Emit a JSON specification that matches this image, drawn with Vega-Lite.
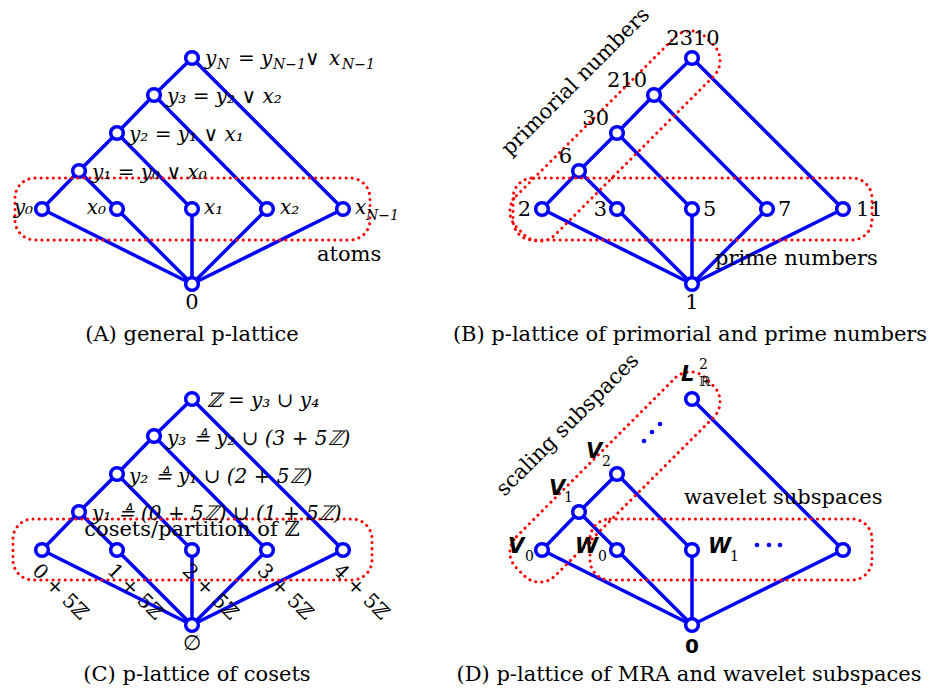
{
  "$schema": "https://vega.github.io/schema/vega-lite/v6.json",
  "width": 938,
  "height": 694,
  "padding": 0,
  "autosize": "none",
  "background": "white",
  "config": {"view": {"stroke": null}},
  "datasets": {
    "edges": [
      {"x": 42, "y": 209, "x2": 79, "y2": 171},
      {"x": 79, "y": 171, "x2": 117, "y2": 133},
      {"x": 117, "y": 133, "x2": 154, "y2": 95},
      {"x": 154, "y": 95, "x2": 192, "y2": 58},
      {"x": 79, "y": 171, "x2": 117, "y2": 209},
      {"x": 117, "y": 133, "x2": 192, "y2": 209},
      {"x": 154, "y": 95, "x2": 267, "y2": 209},
      {"x": 192, "y": 58, "x2": 343, "y2": 209},
      {"x": 192, "y": 284, "x2": 42, "y2": 209},
      {"x": 192, "y": 284, "x2": 117, "y2": 209},
      {"x": 192, "y": 284, "x2": 192, "y2": 209},
      {"x": 192, "y": 284, "x2": 267, "y2": 209},
      {"x": 192, "y": 284, "x2": 343, "y2": 209},
      {"x": 542, "y": 209, "x2": 579, "y2": 171},
      {"x": 579, "y": 171, "x2": 617, "y2": 133},
      {"x": 617, "y": 133, "x2": 654, "y2": 95},
      {"x": 654, "y": 95, "x2": 692, "y2": 58},
      {"x": 579, "y": 171, "x2": 617, "y2": 209},
      {"x": 617, "y": 133, "x2": 692, "y2": 209},
      {"x": 654, "y": 95, "x2": 767, "y2": 209},
      {"x": 692, "y": 58, "x2": 843, "y2": 209},
      {"x": 692, "y": 284, "x2": 542, "y2": 209},
      {"x": 692, "y": 284, "x2": 617, "y2": 209},
      {"x": 692, "y": 284, "x2": 692, "y2": 209},
      {"x": 692, "y": 284, "x2": 767, "y2": 209},
      {"x": 692, "y": 284, "x2": 843, "y2": 209},
      {"x": 42, "y": 550, "x2": 79, "y2": 512},
      {"x": 79, "y": 512, "x2": 117, "y2": 474},
      {"x": 117, "y": 474, "x2": 154, "y2": 436},
      {"x": 154, "y": 436, "x2": 192, "y2": 399},
      {"x": 79, "y": 512, "x2": 117, "y2": 550},
      {"x": 117, "y": 474, "x2": 192, "y2": 550},
      {"x": 154, "y": 436, "x2": 267, "y2": 550},
      {"x": 192, "y": 399, "x2": 343, "y2": 550},
      {"x": 192, "y": 625, "x2": 42, "y2": 550},
      {"x": 192, "y": 625, "x2": 117, "y2": 550},
      {"x": 192, "y": 625, "x2": 192, "y2": 550},
      {"x": 192, "y": 625, "x2": 267, "y2": 550},
      {"x": 192, "y": 625, "x2": 343, "y2": 550},
      {"x": 542, "y": 550, "x2": 579, "y2": 512},
      {"x": 579, "y": 512, "x2": 617, "y2": 474},
      {"x": 579, "y": 512, "x2": 617, "y2": 550},
      {"x": 617, "y": 474, "x2": 692, "y2": 550},
      {"x": 692, "y": 399, "x2": 843, "y2": 550},
      {"x": 692, "y": 625, "x2": 542, "y2": 550},
      {"x": 692, "y": 625, "x2": 617, "y2": 550},
      {"x": 692, "y": 625, "x2": 692, "y2": 550},
      {"x": 692, "y": 625, "x2": 843, "y2": 550}
    ],
    "nodes": [
      {"x": 42, "y": 209}, {"x": 117, "y": 209}, {"x": 192, "y": 209}, {"x": 267, "y": 209}, {"x": 343, "y": 209},
      {"x": 79, "y": 171}, {"x": 117, "y": 133}, {"x": 154, "y": 95}, {"x": 192, "y": 58}, {"x": 192, "y": 284},
      {"x": 542, "y": 209}, {"x": 617, "y": 209}, {"x": 692, "y": 209}, {"x": 767, "y": 209}, {"x": 843, "y": 209},
      {"x": 579, "y": 171}, {"x": 617, "y": 133}, {"x": 654, "y": 95}, {"x": 692, "y": 58}, {"x": 692, "y": 284},
      {"x": 42, "y": 550}, {"x": 117, "y": 550}, {"x": 192, "y": 550}, {"x": 267, "y": 550}, {"x": 343, "y": 550},
      {"x": 79, "y": 512}, {"x": 117, "y": 474}, {"x": 154, "y": 436}, {"x": 192, "y": 399}, {"x": 192, "y": 625},
      {"x": 542, "y": 550}, {"x": 617, "y": 550}, {"x": 692, "y": 550}, {"x": 843, "y": 550},
      {"x": 579, "y": 512}, {"x": 617, "y": 474}, {"x": 692, "y": 399}, {"x": 692, "y": 625}
    ],
    "boxes": [
      {"x": 15, "y": 178, "x2": 370, "y2": 240},
      {"x": 513, "y": 178, "x2": 872, "y2": 240},
      {"x": 13, "y": 519, "x2": 372, "y2": 580},
      {"x": 590, "y": 519, "x2": 872, "y2": 580}
    ],
    "stadia": [
      {"x": 615, "y": 136},
      {"x": 615, "y": 477}
    ],
    "dots": [
      {"x": 644, "y": 441}, {"x": 652, "y": 432}, {"x": 660, "y": 424},
      {"x": 757, "y": 545}, {"x": 769, "y": 545}, {"x": 780, "y": 545}
    ],
    "texts": [
      {"k": "s", "x": 317, "y": 261, "t": "atoms"},
      {"k": "s", "x": 715, "y": 265, "t": "prime numbers"},
      {"k": "s", "x": 703, "y": 216, "t": "5"},
      {"k": "s", "x": 778, "y": 216, "t": "7"},
      {"k": "s", "x": 856, "y": 216, "t": "11"},
      {"k": "s", "x": 684, "y": 504, "t": "wavelet subspaces"},
      {"k": "sr", "x": 647, "y": 87, "t": "210"},
      {"k": "sr", "x": 609, "y": 125, "t": "30"},
      {"k": "sr", "x": 572, "y": 163, "t": "6"},
      {"k": "sr", "x": 531, "y": 216, "t": "2"},
      {"k": "sr", "x": 607, "y": 216, "t": "3"},
      {"k": "sc", "x": 693, "y": 45, "t": "2310"},
      {"k": "sc", "x": 192, "y": 309, "t": "0"},
      {"k": "sc", "x": 692, "y": 309, "t": "1"},
      {"k": "sc", "x": 192, "y": 341, "t": "(A) general p-lattice"},
      {"k": "sc", "x": 690, "y": 341, "t": "(B) p-lattice of primorial and prime numbers"},
      {"k": "sc", "x": 192, "y": 536, "t": "cosets/partition of ℤ"},
      {"k": "sc", "x": 192, "y": 650, "t": "∅"},
      {"k": "sc", "x": 197, "y": 681, "t": "(C) p-lattice of cosets"},
      {"k": "sc", "x": 689, "y": 681, "t": "(D) p-lattice of MRA and wavelet subspaces"},
      {"k": "m", "x": 205, "y": 65, "t": "y"},
      {"k": "m", "x": 238, "y": 65, "t": "= y"},
      {"k": "m", "x": 305, "y": 65, "t": "∨"},
      {"k": "m", "x": 329, "y": 65, "t": "x"},
      {"k": "mi", "x": 217, "y": 69, "t": "N"},
      {"k": "mi", "x": 273, "y": 69, "t": "N−1"},
      {"k": "mi", "x": 342, "y": 69, "t": "N−1"},
      {"k": "m", "x": 167, "y": 103, "t": "y₃ = y₂ ∨ x₂"},
      {"k": "m", "x": 129, "y": 141, "t": "y₂ = y₁ ∨ x₁"},
      {"k": "m", "x": 92, "y": 179, "t": "y₁ = y₀ ∨ x₀"},
      {"k": "mr", "x": 33, "y": 214, "t": "y₀"},
      {"k": "mr", "x": 106, "y": 214, "t": "x₀"},
      {"k": "m", "x": 204, "y": 214, "t": "x₁"},
      {"k": "m", "x": 280, "y": 214, "t": "x₂"},
      {"k": "m", "x": 355, "y": 214, "t": "x"},
      {"k": "mi", "x": 366, "y": 220, "t": "N−1"},
      {"k": "m", "x": 207, "y": 407, "t": "ℤ = y₃ ∪ y₄"},
      {"k": "m", "x": 167, "y": 445, "t": "y₃ ≜ y₂ ∪ (3 + 5ℤ)"},
      {"k": "m", "x": 129, "y": 483, "t": "y₂ ≜ y₁ ∪ (2 + 5ℤ)"},
      {"k": "m", "x": 92, "y": 520, "t": "y₁ ≜ (0 + 5ℤ) ∪ (1 + 5ℤ)"},
      {"k": "r45", "x": 60, "y": 592, "t": "0 + 5ℤ"},
      {"k": "r45", "x": 135, "y": 592, "t": "1 + 5ℤ"},
      {"k": "r45", "x": 210, "y": 592, "t": "2 + 5ℤ"},
      {"k": "r45", "x": 285, "y": 592, "t": "3 + 5ℤ"},
      {"k": "r45", "x": 361, "y": 592, "t": "4 + 5ℤ"},
      {"k": "r315", "x": 576, "y": 82, "t": "primorial numbers"},
      {"k": "r315", "x": 568, "y": 425, "t": "scaling subspaces"},
      {"k": "v", "x": 508, "y": 553, "t": "V"},
      {"k": "v", "x": 549, "y": 495, "t": "V"},
      {"k": "v", "x": 586, "y": 458, "t": "V"},
      {"k": "v", "x": 575, "y": 553, "t": "W"},
      {"k": "v", "x": 708, "y": 553, "t": "W"},
      {"k": "v", "x": 681, "y": 381, "t": "L"},
      {"k": "vb", "x": 692, "y": 653, "t": "0"},
      {"k": "ss", "x": 525, "y": 561, "t": "0"},
      {"k": "ss", "x": 564, "y": 502, "t": "1"},
      {"k": "ss", "x": 602, "y": 466, "t": "2"},
      {"k": "ss", "x": 598, "y": 561, "t": "0"},
      {"k": "ss", "x": 730, "y": 561, "t": "1"},
      {"k": "ss", "x": 699, "y": 369, "t": "2"},
      {"k": "ss", "x": 699, "y": 386, "t": "ℝ"}
    ]
  },
  "encoding": {
    "x": {"field": "x", "type": "quantitative", "scale": {"domain": [0, 938], "nice": false, "zero": false}, "axis": null},
    "y": {"field": "y", "type": "quantitative", "scale": {"domain": [0, 694], "nice": false, "zero": false, "reverse": true}, "axis": null}
  },
  "layer": [
    {
      "data": {"name": "edges"},
      "mark": {"type": "rule", "color": "#0000ff", "strokeWidth": 3.5},
      "encoding": {"x2": {"field": "x2"}, "y2": {"field": "y2"}}
    },
    {
      "data": {"name": "nodes"},
      "mark": {"type": "point", "shape": "circle", "size": 160, "filled": true, "fill": "white", "stroke": "#0000ff", "strokeWidth": 3.5, "opacity": 1}
    },
    {
      "data": {"name": "boxes"},
      "mark": {"type": "rect", "cornerRadius": 20, "filled": false, "stroke": "red", "strokeWidth": 3, "strokeDash": [0.1, 6], "strokeCap": "round"},
      "encoding": {"x2": {"field": "x2"}, "y2": {"field": "y2"}}
    },
    {
      "data": {"name": "stadia"},
      "mark": {"type": "point", "shape": "M -112 -27.5 L 112 -27.5 A 22 22 0 0 1 134 -5.5 L 134 5.5 A 22 22 0 0 1 112 27.5 L -112 27.5 A 22 22 0 0 1 -134 5.5 L -134 -5.5 A 22 22 0 0 1 -112 -27.5 Z", "size": 4, "angle": 315, "filled": false, "stroke": "red", "strokeWidth": 3, "strokeDash": [0.1, 6], "strokeCap": "round", "opacity": 1}
    },
    {
      "data": {"name": "dots"},
      "mark": {"type": "point", "shape": "circle", "size": 22, "filled": true, "color": "#0000ff", "opacity": 1}
    },
    {
      "data": {"name": "texts"},
      "transform": [{"filter": "datum.k === 's'"}],
      "mark": {"type": "text", "font": "DejaVu Serif", "fontSize": 21, "align": "left", "baseline": "alphabetic", "color": "black"},
      "encoding": {"text": {"field": "t"}}
    },
    {
      "data": {"name": "texts"},
      "transform": [{"filter": "datum.k === 'sr'"}],
      "mark": {"type": "text", "font": "DejaVu Serif", "fontSize": 21, "align": "right", "baseline": "alphabetic", "color": "black"},
      "encoding": {"text": {"field": "t"}}
    },
    {
      "data": {"name": "texts"},
      "transform": [{"filter": "datum.k === 'sc'"}],
      "mark": {"type": "text", "font": "DejaVu Serif", "fontSize": 21, "align": "center", "baseline": "alphabetic", "color": "black"},
      "encoding": {"text": {"field": "t"}}
    },
    {
      "data": {"name": "texts"},
      "transform": [{"filter": "datum.k === 'm'"}],
      "mark": {"type": "text", "font": "DejaVu Serif", "fontStyle": "italic", "fontSize": 20, "align": "left", "baseline": "alphabetic", "color": "black"},
      "encoding": {"text": {"field": "t"}}
    },
    {
      "data": {"name": "texts"},
      "transform": [{"filter": "datum.k === 'mr'"}],
      "mark": {"type": "text", "font": "DejaVu Serif", "fontStyle": "italic", "fontSize": 20, "align": "right", "baseline": "alphabetic", "color": "black"},
      "encoding": {"text": {"field": "t"}}
    },
    {
      "data": {"name": "texts"},
      "transform": [{"filter": "datum.k === 'mi'"}],
      "mark": {"type": "text", "font": "DejaVu Serif", "fontStyle": "italic", "fontSize": 14, "align": "left", "baseline": "alphabetic", "color": "black"},
      "encoding": {"text": {"field": "t"}}
    },
    {
      "data": {"name": "texts"},
      "transform": [{"filter": "datum.k === 'ss'"}],
      "mark": {"type": "text", "font": "DejaVu Serif", "fontSize": 14, "align": "left", "baseline": "alphabetic", "color": "black"},
      "encoding": {"text": {"field": "t"}}
    },
    {
      "data": {"name": "texts"},
      "transform": [{"filter": "datum.k === 'r45'"}],
      "mark": {"type": "text", "font": "DejaVu Serif", "fontSize": 20, "align": "center", "baseline": "middle", "angle": 45, "color": "black"},
      "encoding": {"text": {"field": "t"}}
    },
    {
      "data": {"name": "texts"},
      "transform": [{"filter": "datum.k === 'r315'"}],
      "mark": {"type": "text", "font": "DejaVu Serif", "fontSize": 21, "align": "center", "baseline": "middle", "angle": 315, "color": "black"},
      "encoding": {"text": {"field": "t"}}
    },
    {
      "data": {"name": "texts"},
      "transform": [{"filter": "datum.k === 'v'"}],
      "mark": {"type": "text", "font": "DejaVu Sans", "fontStyle": "italic", "fontWeight": "bold", "fontSize": 21, "align": "left", "baseline": "alphabetic", "color": "black"},
      "encoding": {"text": {"field": "t"}}
    },
    {
      "data": {"name": "texts"},
      "transform": [{"filter": "datum.k === 'vb'"}],
      "mark": {"type": "text", "font": "DejaVu Sans", "fontWeight": "bold", "fontSize": 20, "align": "center", "baseline": "alphabetic", "color": "black"},
      "encoding": {"text": {"field": "t"}}
    }
  ]
}
